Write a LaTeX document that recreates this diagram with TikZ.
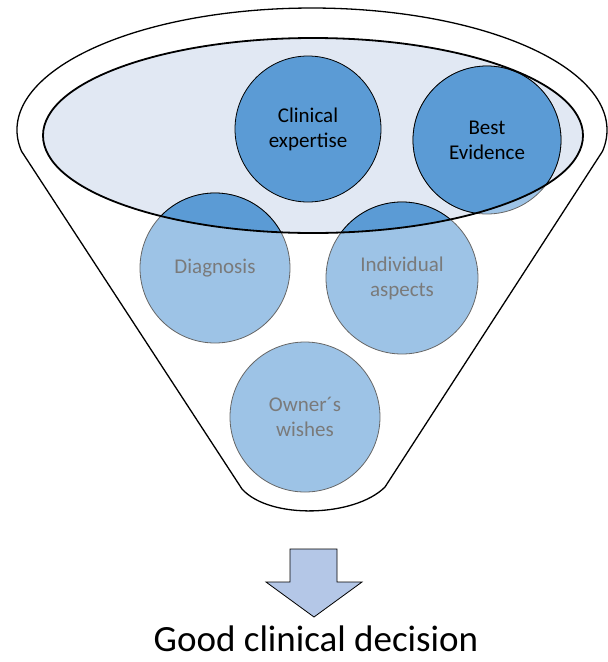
\documentclass[tikz,border=0pt]{standalone}
\usepackage{fontspec}
\setmainfont{Carlito}
\usetikzlibrary{positioning}
\definecolor{darkblue}{HTML}{5B9BD5}
\definecolor{lightblue}{HTML}{9DC3E6}
\definecolor{rimblue}{HTML}{E1E8F3}
\definecolor{arrowblue}{HTML}{B4C7E7}
\definecolor{labelgrey}{HTML}{7A7A7A}
\tikzstyle{factor} = [circle, minimum size=150pt, inner sep=0pt, align=center, line width=0.8pt, font=\fontsize{21}{25}\selectfont]
\tikzstyle{inside} = [factor, fill=darkblue, draw=black, text=black]
\tikzstyle{outside} = [factor, fill=lightblue, draw=black!60, text=labelgrey]
\tikzstyle{rim} = [line width=1.8pt]

\begin{document}
\begin{tikzpicture}[x=1pt, y=-1pt]
  \useasboundingbox (0,0) rectangle (608,662);

  % funnel body
  \draw[line width=1.3pt, line join=round] (242,489) -- (21.5,151.2)
    arc [start angle=170, end angle=370, x radius=295, y radius=122]
    -- (385,487) .. controls (355,517) and (270,520) .. (242,489) -- cycle;

  % top of the funnel
  \fill[rimblue] (313,135.5) ellipse [x radius=270, y radius=97.5];

  \node (diag) [outside] at (215,268) {Diagnosis};
  \node (indiv) [outside, minimum size=152pt] at (402,278) {Individual\\aspects};
  \node (owner) [outside] at (305,417) {Owner´s\\wishes};
  \filldraw[fill=lightblue, draw=black!60, line width=0.8pt] (487,140) circle [radius=74];

  \begin{scope}
    \clip (313,135.5) ellipse [x radius=270, y radius=97.5];
    \filldraw[fill=darkblue, line width=0.8pt] (diag.center) circle [radius=75] (indiv.center) circle [radius=76];
    \node (evidence) [inside, minimum size=148pt] at (487,140) {Best\\Evidence};
  \end{scope}
  \node (clinical) [inside, minimum size=146pt] at (308,129) {Clinical\\expertise};

  \draw[rim] (313,135.5) ellipse [x radius=270, y radius=97.5];

  % result
  \filldraw[fill=arrowblue, line width=0.8pt] (290,549) -- (337,549) -- (337,582) -- (362,582)
    -- (314,617) coordinate (tip) -- (266,582) -- (290,582) -- cycle;
  \node (decision) [anchor=base, inner sep=0pt, font=\fontsize{37}{40}\selectfont] at (316,651) {Good clinical decision};
\end{tikzpicture}
\end{document}
